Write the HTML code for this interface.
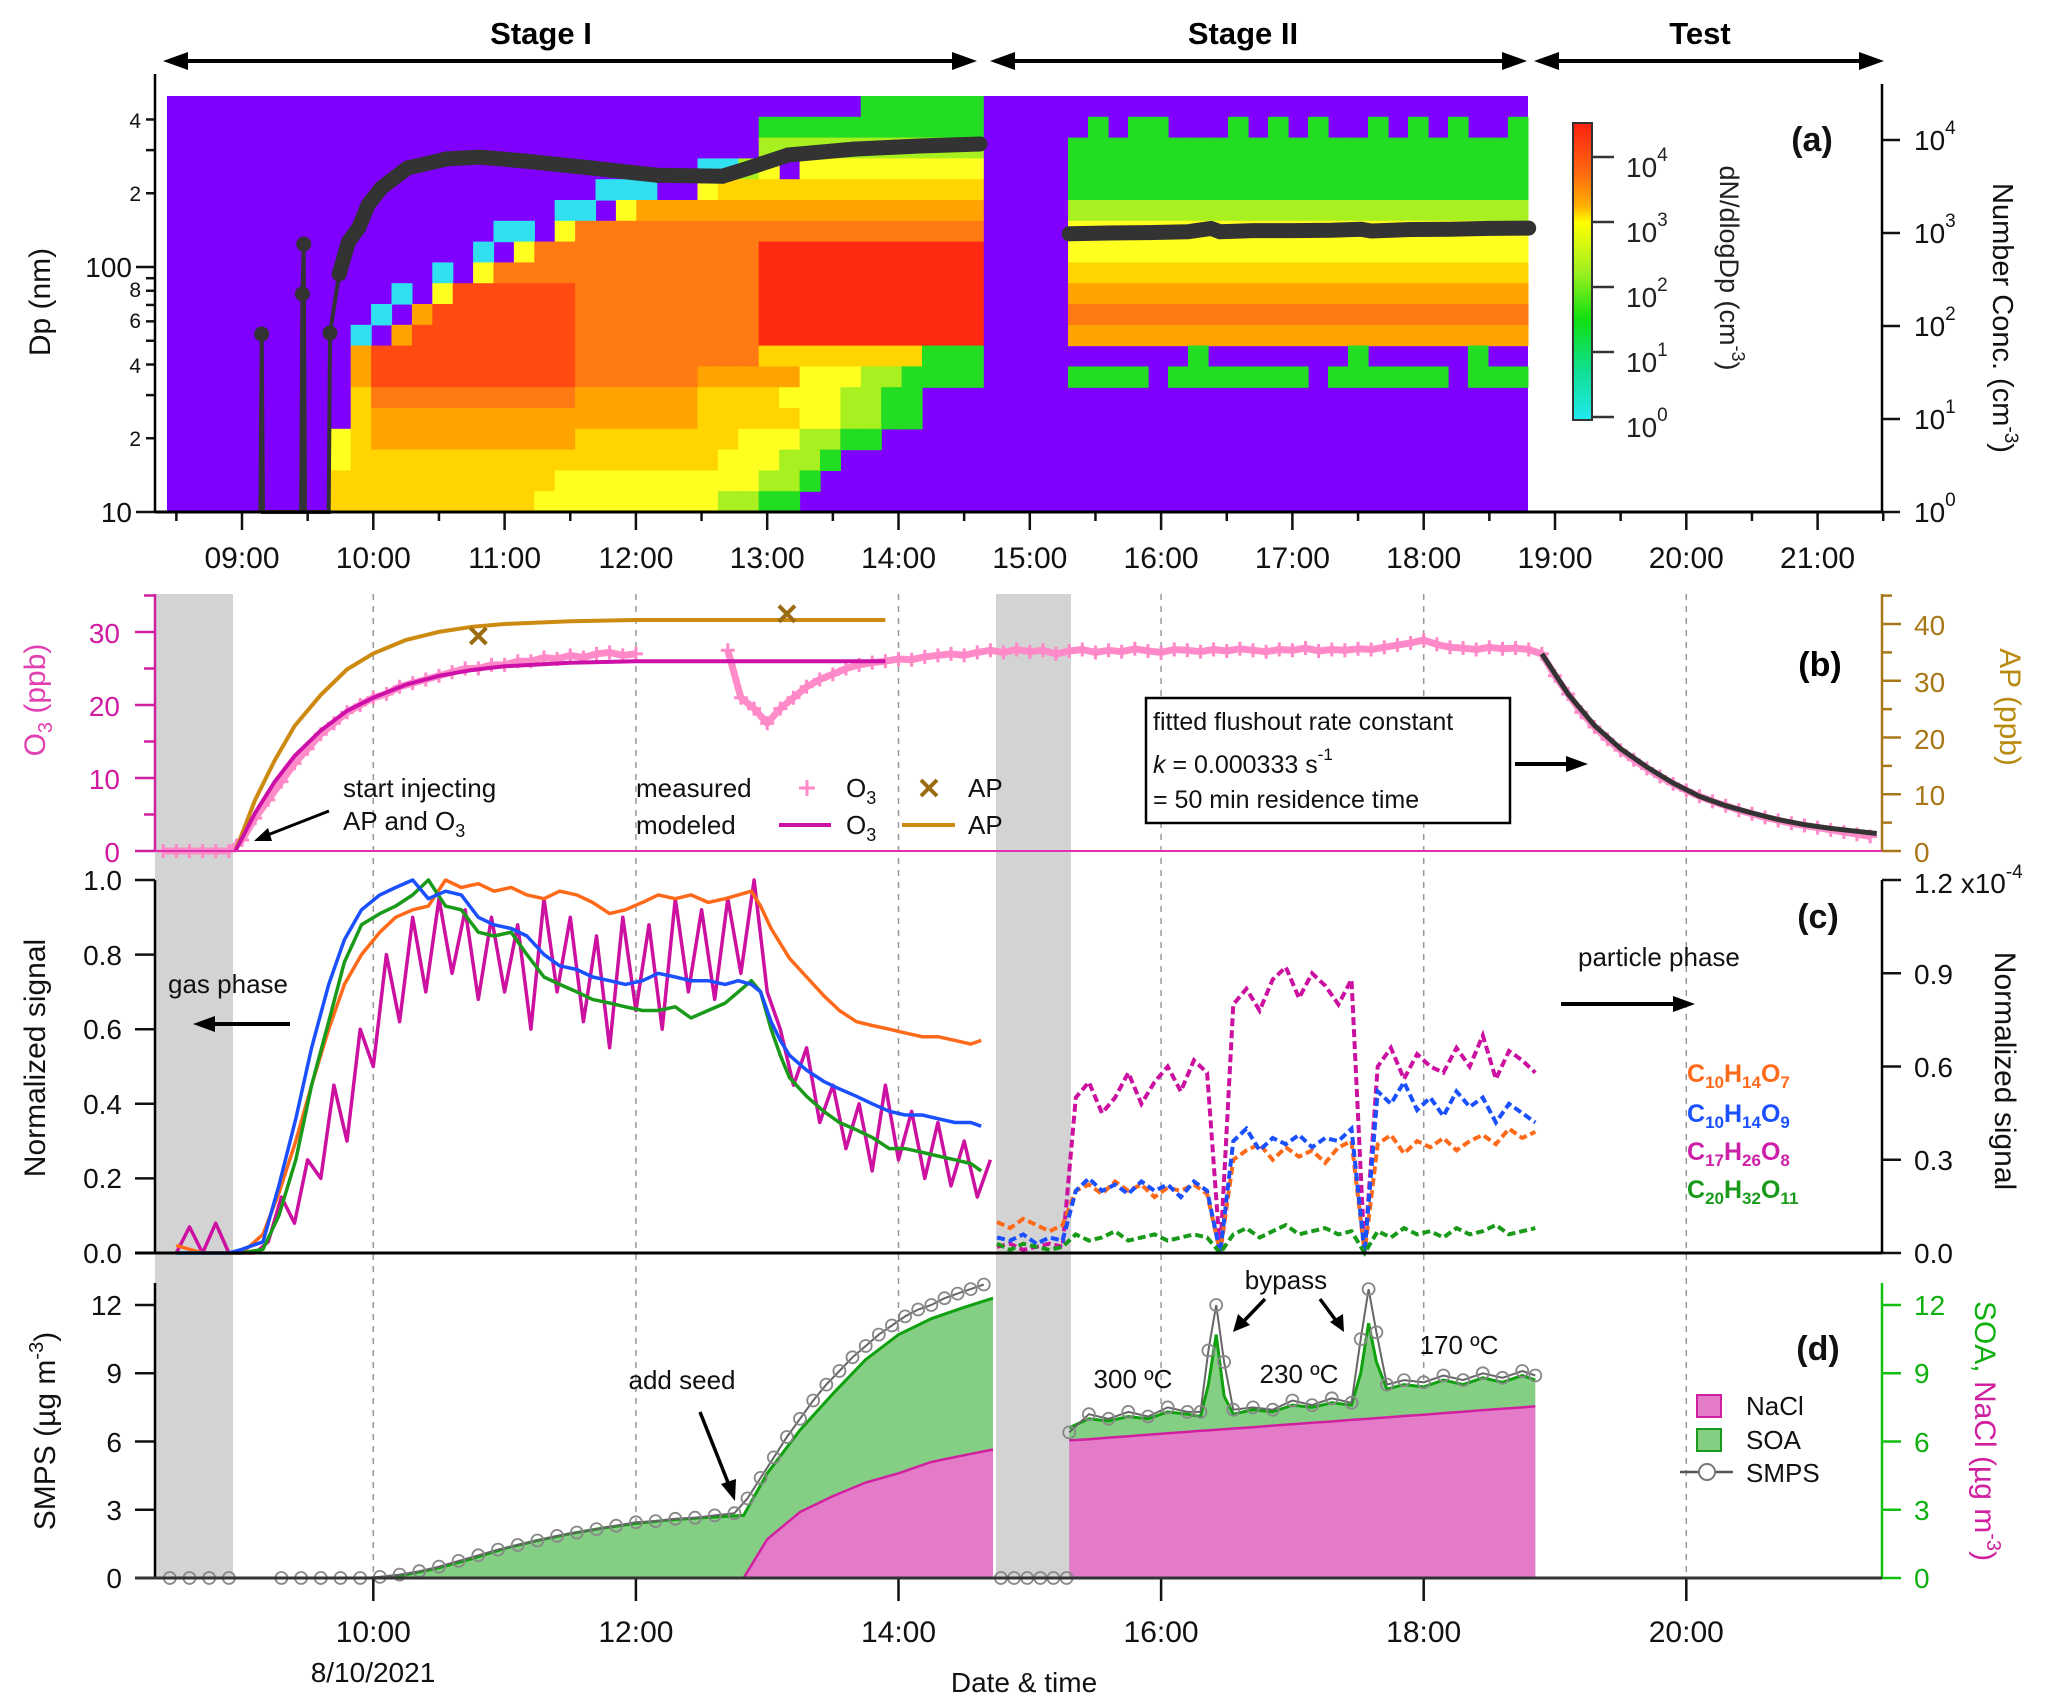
<!DOCTYPE html>
<html><head><meta charset="utf-8"><title>Chamber experiment overview</title>
<style>
html,body{margin:0;padding:0;background:#fff;}
svg{display:block;font-family:"Liberation Sans",Arial,sans-serif;}
</style></head>
<body>
<svg id="chart" width="2067" height="1702" viewBox="0 0 2067 1702" xmlns="http://www.w3.org/2000/svg">
<defs>
<linearGradient id="cbar" x1="0" y1="0" x2="0" y2="1">
<stop offset="0" stop-color="#ff2010"/><stop offset="0.17" stop-color="#ff6a10"/><stop offset="0.28" stop-color="#ffb000"/>
<stop offset="0.335" stop-color="#ffff00"/><stop offset="0.5" stop-color="#a0f020"/><stop offset="0.66" stop-color="#10e010"/>
<stop offset="0.83" stop-color="#10e090"/><stop offset="1" stop-color="#20e8f0"/>
</linearGradient>
</defs>
<rect x="0" y="0" width="2067" height="1702" fill="#fff"/>

<g>
<text x="541" y="44" font-size="31" font-weight="bold" text-anchor="middle">Stage I</text>
<text x="1243" y="44" font-size="31" font-weight="bold" text-anchor="middle">Stage II</text>
<text x="1700" y="44" font-size="31" font-weight="bold" text-anchor="middle">Test</text>
<g stroke="#000" stroke-width="4">
<line x1="180" y1="61" x2="960" y2="61"/><line x1="1006" y1="61" x2="1510" y2="61"/><line x1="1550" y1="61" x2="1866" y2="61"/>
</g>
<g fill="#000">
<polygon points="163,61 188,52 188,70"/><polygon points="977,61 952,52 952,70"/>
<polygon points="990,61 1015,52 1015,70"/><polygon points="1527,61 1502,52 1502,70"/>
<polygon points="1534,61 1559,52 1559,70"/><polygon points="1884,61 1859,52 1859,70"/>
</g>
</g>

<rect x="155" y="594" width="78" height="984" fill="#d3d3d3"/>
<rect x="996" y="594" width="75" height="984" fill="#d3d3d3"/>
<g id="grid"></g>

<rect x="167" y="96" width="1361" height="416" fill="#8000ff"/>
<g id="heat"></g>
<g id="nconc"></g>

<g id="pb"></g>
<g id="pc"></g>
<g id="pd"></g>
<g id="ticks"></g>

<g fill="none">
<line x1="155" y1="74" x2="155" y2="512" stroke="#000" stroke-width="2.5"/>
<line x1="1882" y1="84" x2="1882" y2="512" stroke="#000" stroke-width="2.5"/>
<line x1="155" y1="512" x2="1882" y2="512" stroke="#000" stroke-width="3"/>
<line x1="155" y1="594" x2="155" y2="851" stroke="#d020a0" stroke-width="2.5"/>
<line x1="1882" y1="594" x2="1882" y2="851" stroke="#a87818" stroke-width="2.5"/>
<line x1="155" y1="851" x2="1882" y2="851" stroke="#e030b0" stroke-width="2"/>
<line x1="155" y1="880" x2="155" y2="1253" stroke="#000" stroke-width="2.5"/>
<line x1="1882" y1="880" x2="1882" y2="1253" stroke="#000" stroke-width="2.5"/>
<line x1="135" y1="1253" x2="1882" y2="1253" stroke="#000" stroke-width="3"/>
<line x1="155" y1="1283" x2="155" y2="1578" stroke="#000" stroke-width="2.5"/>
<line x1="1882" y1="1283" x2="1882" y2="1578" stroke="#10c010" stroke-width="2.5"/>
<line x1="135" y1="1578" x2="1882" y2="1578" stroke="#333" stroke-width="3"/>
</g>

<g>
<rect x="1573" y="123" width="19" height="297" fill="url(#cbar)" stroke="#333" stroke-width="2"/>
<g stroke="#333" stroke-width="2.5"><line x1="1592" y1="157" x2="1614" y2="157"/><line x1="1592" y1="222" x2="1614" y2="222"/><line x1="1592" y1="287" x2="1614" y2="287"/><line x1="1592" y1="352" x2="1614" y2="352"/><line x1="1592" y1="417" x2="1614" y2="417"/></g>
<g font-size="28" fill="#222">
<text x="1626" y="177">10<tspan font-size="19" dy="-16">4</tspan></text>
<text x="1626" y="242">10<tspan font-size="19" dy="-16">3</tspan></text>
<text x="1626" y="307">10<tspan font-size="19" dy="-16">2</tspan></text>
<text x="1626" y="372">10<tspan font-size="19" dy="-16">1</tspan></text>
<text x="1626" y="437">10<tspan font-size="19" dy="-16">0</tspan></text>
</g>
<text transform="translate(1720,268) rotate(90)" font-size="27" text-anchor="middle" fill="#222">dN/dlogDp (cm<tspan font-size="18" dy="-12">-3</tspan><tspan dy="12">)</tspan></text>
</g>

<g fill="#111">
<text x="1812" y="151" font-size="34" font-weight="bold" text-anchor="middle">(a)</text>
<text transform="translate(50,302) rotate(-90)" font-size="30" text-anchor="middle">Dp (nm)</text>
<text transform="translate(1993,318) rotate(90)" font-size="29" text-anchor="middle">Number Conc. (cm<tspan font-size="19" dy="-12">-3</tspan><tspan dy="12">)</tspan></text>
<g font-size="28" text-anchor="end">
<text x="132" y="277">100</text>
<text x="132" y="522">10</text>
</g>
<g font-size="21" text-anchor="end">
<text x="141" y="128">4</text>
<text x="141" y="201">2</text>
<text x="141" y="297">8</text>
<text x="141" y="328">6</text>
<text x="141" y="373">4</text>
<text x="141" y="446">2</text>
</g>
<g font-size="28">
<text x="1914" y="150">10<tspan font-size="19" dy="-16">4</tspan></text>
<text x="1914" y="243">10<tspan font-size="19" dy="-16">3</tspan></text>
<text x="1914" y="336">10<tspan font-size="19" dy="-16">2</tspan></text>
<text x="1914" y="429">10<tspan font-size="19" dy="-16">1</tspan></text>
<text x="1914" y="522">10<tspan font-size="19" dy="-16">0</tspan></text>
</g>
</g>

<g>
<text x="1820" y="676" font-size="34" font-weight="bold" text-anchor="middle">(b)</text>
<text transform="translate(45,700) rotate(-90)" font-size="30" text-anchor="middle" fill="#e040b0">O<tspan font-size="20" dy="7">3</tspan><tspan dy="-7"> (ppb)</tspan></text>
<g font-size="28" text-anchor="end" fill="#d01aa0">
<text x="120" y="643">30</text>
<text x="120" y="716">20</text>
<text x="120" y="789">10</text>
<text x="120" y="862">0</text>
</g>
<text transform="translate(2000,707) rotate(90)" font-size="30" text-anchor="middle" fill="#b88a10">AP (ppb)</text>
<g font-size="28" fill="#a87818">
<text x="1914" y="635">40</text>
<text x="1914" y="692">30</text>
<text x="1914" y="749">20</text>
<text x="1914" y="805">10</text>
<text x="1914" y="862">0</text>
</g>
<g font-size="26" fill="#111">
<text x="343" y="797">start injecting</text>
<text x="343" y="830">AP and O<tspan font-size="18" dy="7">3</tspan></text>
<text x="636" y="797">measured</text>
<text x="636" y="834">modeled</text>
<text x="846" y="797">O<tspan font-size="18" dy="7">3</tspan></text>
<text x="968" y="797">AP</text>
<text x="846" y="834">O<tspan font-size="18" dy="7">3</tspan></text>
<text x="968" y="834">AP</text>
</g>
<g stroke="#ff88c8" stroke-width="3"><line x1="799" y1="788" x2="815" y2="788"/><line x1="807" y1="780" x2="807" y2="796"/></g>
<g stroke="#9a6b10" stroke-width="4"><line x1="921" y1="780" x2="937" y2="796"/><line x1="937" y1="780" x2="921" y2="796"/></g>
<line x1="779" y1="825" x2="831" y2="825" stroke="#cc10a8" stroke-width="4"/>
<line x1="902" y1="825" x2="955" y2="825" stroke="#cc8a10" stroke-width="4"/>
<line x1="329" y1="811" x2="265" y2="836" stroke="#000" stroke-width="3"/>
<polygon points="254,841 268,828 272,841" fill="#000"/>
<rect x="1146" y="698" width="364" height="125" fill="#fff" stroke="#000" stroke-width="2.5"/>
<g font-size="25" fill="#111">
<text x="1153" y="730">fitted flushout rate constant</text>
<text x="1153" y="773"><tspan font-style="italic">k</tspan> = 0.000333 s<tspan font-size="17" dy="-13">-1</tspan></text>
<text x="1153" y="808">= 50 min residence time</text>
</g>
<line x1="1515" y1="764" x2="1568" y2="764" stroke="#000" stroke-width="4"/>
<polygon points="1588,764 1566,756 1566,772" fill="#000"/>
</g>

<g fill="#111">
<text x="1818" y="928" font-size="34" font-weight="bold" text-anchor="middle">(c)</text>
<text transform="translate(45,1058) rotate(-90)" font-size="30" text-anchor="middle">Normalized signal</text>
<text transform="translate(1995,1071) rotate(90)" font-size="30" text-anchor="middle">Normalized signal</text>
<g font-size="28" text-anchor="end">
<text x="122" y="890">1.0</text>
<text x="122" y="965">0.8</text>
<text x="122" y="1039">0.6</text>
<text x="122" y="1114">0.4</text>
<text x="122" y="1188">0.2</text>
<text x="122" y="1263">0.0</text>
</g>
<g font-size="28">
<text x="1914" y="893">1.2 x10<tspan font-size="19" dy="-15">-4</tspan></text>
<text x="1914" y="984">0.9</text>
<text x="1914" y="1077">0.6</text>
<text x="1914" y="1170">0.3</text>
<text x="1914" y="1263">0.0</text>
</g>
<text x="168" y="993" font-size="26">gas phase</text>
<line x1="290" y1="1024" x2="212" y2="1024" stroke="#000" stroke-width="4"/>
<polygon points="193,1024 215,1016 215,1032" fill="#000"/>
<text x="1578" y="966" font-size="26">particle phase</text>
<line x1="1561" y1="1004" x2="1675" y2="1004" stroke="#000" stroke-width="4"/>
<polygon points="1695,1004 1673,996 1673,1012" fill="#000"/>
<g font-size="25" font-weight="bold">
<text x="1687" y="1082" fill="#ff6a1a">C<tspan font-size="17" dy="6">10</tspan><tspan dy="-6">H</tspan><tspan font-size="17" dy="6">14</tspan><tspan dy="-6">O</tspan><tspan font-size="17" dy="6">7</tspan></text>
<text x="1687" y="1122" fill="#1a50ff">C<tspan font-size="17" dy="6">10</tspan><tspan dy="-6">H</tspan><tspan font-size="17" dy="6">14</tspan><tspan dy="-6">O</tspan><tspan font-size="17" dy="6">9</tspan></text>
<text x="1687" y="1160" fill="#cc20a8">C<tspan font-size="17" dy="6">17</tspan><tspan dy="-6">H</tspan><tspan font-size="17" dy="6">26</tspan><tspan dy="-6">O</tspan><tspan font-size="17" dy="6">8</tspan></text>
<text x="1687" y="1198" fill="#1a9a1a">C<tspan font-size="17" dy="6">20</tspan><tspan dy="-6">H</tspan><tspan font-size="17" dy="6">32</tspan><tspan dy="-6">O</tspan><tspan font-size="17" dy="6">11</tspan></text>
</g>
</g>

<g fill="#111">
<text x="1818" y="1360" font-size="34" font-weight="bold" text-anchor="middle">(d)</text>
<text transform="translate(55,1431) rotate(-90)" font-size="30" text-anchor="middle">SMPS (µg m<tspan font-size="20" dy="-12">-3</tspan><tspan dy="12">)</tspan></text>
<text transform="translate(1975,1431) rotate(90)" font-size="30" text-anchor="middle"><tspan fill="#10b010">SOA, </tspan><tspan fill="#d020a0">NaCl (µg m</tspan><tspan fill="#d020a0" font-size="20" dy="-12">-3</tspan><tspan fill="#d020a0" dy="12">)</tspan></text>
<g font-size="28" text-anchor="end">
<text x="122" y="1315">12</text>
<text x="122" y="1383">9</text>
<text x="122" y="1452">6</text>
<text x="122" y="1520">3</text>
<text x="122" y="1588">0</text>
</g>
<g font-size="28" fill="#10b010">
<text x="1914" y="1315">12</text>
<text x="1914" y="1383">9</text>
<text x="1914" y="1452">6</text>
<text x="1914" y="1520">3</text>
<text x="1914" y="1588">0</text>
</g>
<g font-size="26">
<text x="682" y="1389" text-anchor="middle">add seed</text>
<text x="1286" y="1289" text-anchor="middle">bypass</text>
<text x="1133" y="1388" text-anchor="middle">300 ºC</text>
<text x="1299" y="1383" text-anchor="middle">230 ºC</text>
<text x="1459" y="1354" text-anchor="middle">170 ºC</text>
</g>
<g stroke="#000" stroke-width="3.5">
<line x1="700" y1="1412" x2="729" y2="1485"/><line x1="1265" y1="1299" x2="1243" y2="1322"/><line x1="1320" y1="1299" x2="1337" y2="1322"/>
</g>
<g fill="#000">
<polygon points="735,1501 721,1484 736,1479"/><polygon points="1233,1332 1238,1314 1250,1325"/><polygon points="1344,1332 1330,1322 1343,1314"/>
</g>
<rect x="1697" y="1395" width="24" height="22" fill="#e47bc8" stroke="#d020a0" stroke-width="2"/>
<rect x="1697" y="1429" width="24" height="22" fill="#85cf85" stroke="#1a9a1a" stroke-width="2"/>
<line x1="1680" y1="1472" x2="1733" y2="1472" stroke="#555" stroke-width="2.5"/>
<circle cx="1707" cy="1472" r="8" fill="#fff" stroke="#777" stroke-width="2"/>
<g font-size="26">
<text x="1746" y="1415">NaCl</text>
<text x="1746" y="1449">SOA</text>
<text x="1746" y="1482">SMPS</text>
</g>
<text x="373" y="1682" font-size="28" text-anchor="middle">8/10/2021</text>
<text x="1024" y="1692" font-size="28" text-anchor="middle">Date &amp; time</text>
</g>
<g id="timelabels" font-size="30" fill="#111"></g>
</svg>

<script>
// ---------------- DATA ----------------
const heatStage1Start = 8.429;
const heatStage1Step = 0.1554;
const heatStage1 = [
"..................................gggggg",
".............................ggggggggggg",
".............................lllllllllll",
"..........................ccly.yyyyyyyyy",
".....................ccc..yYYYYYYYYYYYYY",
"...................cc.yooooooooooooooooo",
"................cc.yOOOOOOOOOOOOOOOOOOOO",
"...............c.yOOOOOOOOOOORRRRRRRRRRR",
".............c.yOOOOOOOOOOOOORRRRRRRRRRR",
"...........c.yrrrrrrOOOOOOOOORRRRRRRRRRR",
"..........c.orrrrrrrOOOOOOOOORRRRRRRRRRR",
".........c.orrrrrrrrOOOOOOOOORRRRRRRRRRR",
".........orrrrrrrrrrOOOOOOOOOYYYYYYYYggg",
".........orrrrrrrrrrOOOOOOoooooyyyllgggg",
".........YOOOOOOOOOOooooooYYYYyyyllgg...",
".........YooooooooooooooooYYYYYyyllgg....",
"........yYooooooooooYYYYYYYYyyyllgg.....",
"........yYYYYYYYYYYYYYYYYYYyyyllg.......",
"........YYYYYYYYYYYyyyyyyyyyyllg........",
"........YYYYYYYYYYyyyyyyyyyllgg........."
];
const heatStage2Start = 15.291;
const heatStage2Step = 0.1523;
const heatStage2 = [
".......................",
".g.gg...g.g.g..g.g.g..g",
"ggggggggggggggggggggggg",
"ggggggggggggggggggggggg",
"ggggggggggggggggggggggg",
"lllllllllllllllllllllll",
"yyyyyyyyyyyyyyyyyyyyyyy",
"yyyyyyyyyyyyyyyyyyyyyyy",
"YYYYYYYYYYYYYYYYYYYYYYY",
"ooooooooooooooooooooooo",
"OOOOOOOOOOOOOOOOOOOOOOO",
"ooooooooooooooooooooooo",
"......g.......g.....g..",
"gggg.ggggggg.gggggg.ggg",
".......................",".......................",".......................",
".......................",".......................","......................."
];
const heatColors = {c:'#30e0f0',g:'#22dd22',l:'#a8f020',y:'#ffff20',Y:'#ffd400',o:'#ffa300',O:'#ff7a12',r:'#ff4a12',R:'#ff2810'};

const nTimes1 = [9.14,9.15,9.16,9.45,9.46,9.47,9.48,9.66,9.67,9.74,9.81,9.89,9.96,10.06,10.26,10.56,10.81,11.16,11.66,12.16,12.66,12.86,13.16,13.66,14.16,14.62];
const nVals1 = [1,82,1,1,221,760,1,1,84,363,800,1150,2000,3040,5000,6260,6550,5930,5000,4180,4080,5000,6900,7980,8610,9060];
const nTimes2 = [15.3,15.6,15.9,16.2,16.38,16.45,16.7,17.0,17.3,17.52,17.6,17.9,18.2,18.5,18.8];
const nVals2 = [980,1000,1010,1030,1120,1030,1060,1060,1070,1100,1050,1090,1100,1120,1130];

const o3Start = 8.4, o3Step = 0.1;
const o3Measured = [0,0,0,0,0,0,1.5,4.5,7,9.5,12,14,16,17.5,19,20,21,21.5,22.5,23,23.5,24,24.5,25,25,25.5,25.5,26,26,26.5,26.3,26.8,26.5,27,27.2,26.8,27,
null,null,null,null,null,null,27.5,21,19.5,17.5,19.5,21,22.5,23.5,24.2,25,25.5,25.8,26,26.3,26.2,26.6,26.8,27,26.8,27.2,27.5,27.2,27.6,27.3,27.5,27,27.4,27.6,27.2,27.5,27.3,27.7,27.4,27.2,27.6,27.5,27.3,27.6,27.4,27.7,27.5,27.3,27.6,27.5,27.8,27.4,27.6,27.5,27.7,27.6,27.9,28.2,28.5,28.9,28.3,27.9,27.8,27.6,27.9,27.7,27.8,27.6,27,24,21.5,19,17,15.3,13.8,12.5,11.3,10.2,9.2,8.3,7.5,6.8,6.2,5.6,5.1,4.6,4.2,3.8,3.5,3.2,2.9,2.6,2.3,2.0];
const modelTimes = [8.95,9.1,9.25,9.4,9.6,9.8,10,10.25,10.5,10.75,11,11.5,12,12.5,13,13.5,13.9];
const o3Modeled = [0,5.2,9.5,13,16.5,19.2,21,22.8,24,24.8,25.3,25.8,26,26,26,26,26];
const apModeled = [0,9,16,22,27.5,32,34.8,37.2,38.6,39.5,40,40.5,40.7,40.7,40.7,40.7,40.7];
const apMeasTimes = [10.8,13.15];
const apMeasured = [37.9,41.8];
const fitTimes = [18.9,19.1,19.3,19.5,19.7,19.9,20.1,20.3,20.5,20.7,20.9,21.1,21.3,21.45];
const fitVals = [27,21.5,17.2,14,11.5,9.3,7.5,6.2,5.2,4.3,3.6,3.1,2.7,2.4];

const gasTimes = [8.5,8.7,8.9,9.0,9.16,9.28,9.41,9.53,9.66,9.78,9.91,10.05,10.17,10.3,10.42,10.55,10.67,10.8,10.92,11.05,11.17,11.3,11.42,11.55,11.67,11.8,11.92,12.05,12.17,12.3,12.42,12.55,12.68,12.78,12.88,12.95,13.03,13.1,13.17,13.3,13.43,13.55,13.68,13.8,13.93,14.05,14.18,14.3,14.43,14.55,14.63];
const gasOrange = [0.02,0,0,0,0.05,0.16,0.3,0.45,0.6,0.72,0.8,0.86,0.9,0.92,0.93,1.0,0.98,0.99,0.97,0.98,0.96,0.95,0.97,0.96,0.94,0.91,0.92,0.94,0.96,0.95,0.96,0.94,0.95,0.96,0.97,0.93,0.87,0.83,0.79,0.74,0.69,0.65,0.62,0.61,0.6,0.59,0.58,0.58,0.57,0.56,0.57];
const gasBlue = [0,0,0,0.01,0.03,0.18,0.36,0.55,0.72,0.84,0.92,0.96,0.98,1.0,0.95,0.97,0.96,0.9,0.88,0.87,0.85,0.8,0.77,0.76,0.74,0.73,0.72,0.73,0.75,0.74,0.73,0.73,0.72,0.73,0.72,0.7,0.62,0.57,0.53,0.49,0.46,0.44,0.42,0.4,0.38,0.37,0.37,0.36,0.35,0.35,0.34];
const gasGreen = [0,0,0,0,0.01,0.1,0.25,0.45,0.62,0.78,0.88,0.91,0.93,0.96,1.0,0.93,0.92,0.86,0.85,0.86,0.8,0.74,0.72,0.7,0.68,0.67,0.66,0.65,0.65,0.66,0.63,0.65,0.67,0.7,0.73,0.7,0.6,0.53,0.47,0.42,0.38,0.35,0.33,0.31,0.28,0.28,0.27,0.26,0.25,0.24,0.22];
const magStart = 8.5, magStep = 0.1;
const gasMagenta = [0,0.07,0,0.08,0,0,0,0.03,0.15,0.08,0.25,0.2,0.45,0.3,0.6,0.5,0.8,0.62,0.9,0.7,0.95,0.75,0.92,0.68,0.9,0.7,0.88,0.6,0.95,0.7,0.9,0.62,0.85,0.55,0.9,0.65,0.88,0.6,0.95,0.7,0.92,0.68,0.95,0.75,1.0,0.7,0.6,0.45,0.55,0.35,0.45,0.28,0.4,0.22,0.45,0.25,0.38,0.2,0.35,0.18,0.3,0.15,0.25];
const partStart = 14.75, partStep = 0.1;
const partMagenta = [0.02,0.03,0.01,0.02,0.03,0.02,0.5,0.55,0.45,0.5,0.58,0.48,0.55,0.6,0.52,0.62,0.58,0.0,0.8,0.85,0.78,0.88,0.92,0.82,0.9,0.86,0.8,0.88,0.0,0.6,0.66,0.56,0.64,0.6,0.58,0.66,0.6,0.7,0.56,0.65,0.62,0.58];
const partBlue = [0.05,0.04,0.06,0.03,0.05,0.04,0.2,0.24,0.2,0.22,0.19,0.23,0.2,0.22,0.18,0.23,0.2,0.0,0.36,0.4,0.33,0.37,0.35,0.38,0.34,0.37,0.36,0.4,0.0,0.52,0.48,0.55,0.46,0.5,0.44,0.52,0.47,0.5,0.42,0.48,0.45,0.42];
const partOrange = [0.1,0.08,0.11,0.09,0.07,0.09,0.2,0.22,0.19,0.23,0.2,0.22,0.18,0.21,0.2,0.22,0.19,0.0,0.3,0.33,0.35,0.3,0.34,0.31,0.33,0.29,0.34,0.36,0.0,0.35,0.38,0.32,0.36,0.34,0.37,0.33,0.36,0.38,0.35,0.4,0.37,0.39];
const partGreen = [0.03,0.01,0.03,0.02,0.01,0.02,0.06,0.04,0.05,0.07,0.04,0.05,0.06,0.04,0.05,0.06,0.05,0.0,0.06,0.08,0.05,0.07,0.09,0.06,0.07,0.08,0.06,0.07,0.0,0.07,0.05,0.08,0.06,0.07,0.05,0.08,0.06,0.07,0.09,0.06,0.07,0.08];

const massTimes1 = [8.4,10.0,10.25,10.5,10.75,11.0,11.25,11.5,11.75,12.0,12.25,12.5,12.82,13.0,13.25,13.5,13.75,14.0,14.25,14.5,14.72];
const soaTop1 = [0,0,0.15,0.45,0.85,1.3,1.65,1.95,2.2,2.4,2.55,2.65,2.75,4.6,6.5,8.1,9.6,10.7,11.4,11.9,12.3];
const nacl1 = [0,0,0,0,0,0,0,0,0,0,0,0,0,1.7,2.9,3.6,4.2,4.6,5.1,5.4,5.65];
const smpsTimes1 = [8.45,8.6,8.75,8.9,9.3,9.45,9.6,9.75,9.9,10.05,10.2,10.35,10.5,10.65,10.8,10.95,11.1,11.25,11.4,11.55,11.7,11.85,12.0,12.15,12.3,12.45,12.6,12.75,12.85,12.95,13.05,13.15,13.25,13.35,13.45,13.55,13.65,13.75,13.85,13.95,14.05,14.15,14.25,14.35,14.45,14.55,14.65];
const smps1 = [0,0,0,0,0,0,0,0,0,0.05,0.15,0.3,0.5,0.75,1.0,1.25,1.45,1.65,1.85,2.0,2.15,2.3,2.45,2.5,2.6,2.65,2.75,2.85,3.5,4.4,5.3,6.2,7.0,7.8,8.5,9.1,9.7,10.2,10.7,11.1,11.5,11.8,12.0,12.3,12.5,12.7,12.9];
const smpsTimesPre = [14.78,14.88,14.98,15.08,15.18,15.28];
const smpsPre = [0,0,0,0,0,0];
const massTimes2 = [15.3,15.45,15.6,15.75,15.9,16.05,16.2,16.3,16.36,16.42,16.48,16.55,16.7,16.85,17.0,17.15,17.3,17.45,17.52,17.58,17.64,17.72,17.85,18.0,18.15,18.3,18.45,18.6,18.75,18.85];
const soaTop2 = [6.6,7.0,6.9,7.1,7.0,7.3,7.2,7.1,8.5,10.7,8.0,7.2,7.4,7.3,7.6,7.5,7.7,7.6,9.0,11.2,9.5,8.3,8.5,8.4,8.7,8.5,8.8,8.6,8.9,8.7];
const nacl2 = [6.05,6.1,6.17,6.23,6.3,6.36,6.42,6.47,6.49,6.52,6.54,6.57,6.63,6.7,6.76,6.82,6.88,6.95,6.98,7.0,7.03,7.06,7.12,7.18,7.25,7.31,7.38,7.44,7.5,7.55];
const smps2 = [6.4,7.2,7.0,7.3,7.1,7.5,7.3,7.3,10.0,12.0,9.5,7.4,7.5,7.4,7.8,7.6,7.9,7.7,10.5,12.7,10.8,8.5,8.7,8.6,8.9,8.7,9.0,8.8,9.1,8.9];

const hourLabelsA = ['09:00','10:00','11:00','12:00','13:00','14:00','15:00','16:00','17:00','18:00','19:00','20:00','21:00'];
const hourLabelsD = ['10:00','12:00','14:00','16:00','18:00','20:00'];

// ---------------- SCALES ----------------
const NS = 'http://www.w3.org/2000/svg';
function mk(tag, attrs, parent){const e=document.createElementNS(NS,tag);for(const k in attrs)e.setAttribute(k,attrs[k]);parent.appendChild(e);return e;}
const X = t => 242 + (t - 9) * 131.3;
const Ydp = dp => 512 - (Math.log10(dp) - 1) * 245;
const Yn = n => 512 - Math.log10(n) * 93;
const Yo3 = v => 851 - v * 7.3;
const Yap = v => 851 - v * 5.675;
const Yc = v => 1253 - v * 373;
const Ycr = v => 1253 - v * 310.8;
const Yd = v => 1578 - v * 22.75;
const hm = s => { const p = s.split(':'); return +p[0] + (+p[1]) / 60; };
const g = id => document.getElementById(id);

function pathFrom(ts, vs, yf){
  let d = '', pen = false;
  for (let i = 0; i < Math.min(ts.length, vs.length); i++){
    if (vs[i] === null){ pen = false; continue; }
    d += (pen ? 'L' : 'M') + X(ts[i]).toFixed(1) + ' ' + yf(vs[i]).toFixed(1);
    pen = true;
  }
  return d;
}

const grid = g('grid');
for (const lab of hourLabelsD){
  const ln = mk('line', {x1:X(hm(lab)), x2:X(hm(lab)), y1:594, y2:1578, stroke:'#999', 'stroke-width':1.5, 'stroke-dasharray':'6 6'}, grid);
  
  
}

const heat = g('heat');
const rowH = 416 / 20;
function drawHeat(rows, t0, dt){
  rows.forEach((row, r) => {
    for (let j = 0; j < row.length; j++){
      const ch = row[j];
      if (!heatColors[ch]) continue;
      const x0 = X(t0 + j * dt), x1 = X(t0 + (j + 1) * dt);
      const cell = mk('rect', {x:x0.toFixed(1), y:(96 + r * rowH).toFixed(1), width:(x1 - x0 + 0.6).toFixed(1), height:(rowH + 0.6).toFixed(1), fill:heatColors[ch]}, heat);
      
      
    }
  });
}
drawHeat(heatStage1, heatStage1Start, heatStage1Step);
drawHeat(heatStage2, heatStage2Start, heatStage2Step);

const nc = g('nconc');
const thin = mk('path', {d:pathFrom(nTimes1.slice(0, 10), nVals1.slice(0, 10), Yn), stroke:'#333', 'stroke-width':4, fill:'none'}, nc);


const thick1 = mk('path', {d:pathFrom(nTimes1.slice(9), nVals1.slice(9), Yn), stroke:'#333', 'stroke-width':15, fill:'none', 'stroke-linecap':'round', 'stroke-linejoin':'round'}, nc);


const thick2 = mk('path', {d:pathFrom(nTimes2, nVals2, Yn), stroke:'#333', 'stroke-width':15, fill:'none', 'stroke-linecap':'round', 'stroke-linejoin':'round'}, nc);


nTimes1.forEach((t, i) => {
  if (nVals1[i] <= 1) return;
  const c = mk('circle', {cx:X(t), cy:Yn(nVals1[i]), r:7.5, fill:'#333'}, nc);
  
  
});

const pb = g('pb');
const o3Times = o3Measured.map((v, i) => o3Start + i * o3Step);
const o3band = mk('path', {d:pathFrom(o3Times, o3Measured, Yo3), stroke:'#ff8cc8', 'stroke-width':7, fill:'none', 'stroke-linejoin':'round'}, pb);


o3Measured.forEach((v, i) => {
  if (v === null) return;
  const x = X(o3Times[i]), y = Yo3(v);
  const p = mk('path', {d:`M${x-7} ${y}H${x+7}M${x} ${y-7}V${y+7}`, stroke:'#ff88c8', 'stroke-width':3}, pb);
  
  
});
const apLine = mk('path', {d:pathFrom(modelTimes, apModeled, Yap), stroke:'#cc8a10', 'stroke-width':4, fill:'none'}, pb);


const o3Line = mk('path', {d:pathFrom(modelTimes, o3Modeled, Yo3), stroke:'#cc10a8', 'stroke-width':4, fill:'none'}, pb);


apMeasTimes.forEach((t, i) => {
  const x = X(t), y = Yap(apMeasured[i]);
  const p = mk('path', {d:`M${x-8} ${y-8}L${x+8} ${y+8}M${x+8} ${y-8}L${x-8} ${y+8}`, stroke:'#9a6b10', 'stroke-width':4}, pb);
  
  
});
const fit = mk('path', {d:pathFrom(fitTimes, fitVals, Yo3), stroke:'#333', 'stroke-width':5, fill:'none'}, pb);



const pc = g('pc');
const magTimes = gasMagenta.map((v, i) => magStart + i * magStep);
[[magTimes, gasMagenta, '#cc10a0', 'gas-c17h26o8-line'], [gasTimes, gasOrange, '#ff6a1a', 'gas-c10h14o7-line'], [gasTimes, gasGreen, '#1a9a1a', 'gas-c20h32o11-line'], [gasTimes, gasBlue, '#1a50ff', 'gas-c10h14o9-line']].forEach(s => {
  const p = mk('path', {d:pathFrom(s[0], s[1], Yc), stroke:s[2], 'stroke-width':3.5, fill:'none', 'stroke-linejoin':'round'}, pc);
  
  
});
const partTimes = partMagenta.map((v, i) => partStart + i * partStep);
[[partMagenta, '#cc10a0', 'particle-c17h26o8-line'], [partOrange, '#ff6a1a', 'particle-c10h14o7-line'], [partBlue, '#1a50ff', 'particle-c10h14o9-line'], [partGreen, '#1a9a1a', 'particle-c20h32o11-line']].forEach(s => {
  const p = mk('path', {d:pathFrom(partTimes, s[0], Ycr), stroke:s[1], 'stroke-width':4, fill:'none', 'stroke-dasharray':'8 4'}, pc);
  
  
});

const pd = g('pd');
function areaPath(ts, vs){
  let d = 'M' + X(ts[0]).toFixed(1) + ' ' + Yd(0);
  ts.forEach((t, i) => { d += 'L' + X(t).toFixed(1) + ' ' + Yd(vs[i]).toFixed(1); });
  d += 'L' + X(ts[ts.length - 1]).toFixed(1) + ' ' + Yd(0) + 'Z';
  return d;
}
[[massTimes1, soaTop1, nacl1, '1'], [massTimes2, soaTop2, nacl2, '2']].forEach(s => {
  const soa = mk('path', {d:areaPath(s[0], s[1]), fill:'#85cf85'}, pd);
  
  
  const na = mk('path', {d:areaPath(s[0], s[2]), fill:'#e47bc8'}, pd);
  
  
  const sl = mk('path', {d:pathFrom(s[0], s[1], Yd), stroke:'#10a010', 'stroke-width':3, fill:'none'}, pd);
  
  
  const nl = mk('path', {d:pathFrom(s[0], s[2], Yd), stroke:'#d020a0', 'stroke-width':2.5, fill:'none'}, pd);
  
  
});
[[smpsTimes1, smps1, '1'], [smpsTimesPre, smpsPre, 'pre'], [massTimes2, smps2, '2']].forEach(s => {
  const l = mk('path', {d:pathFrom(s[0], s[1], Yd), stroke:'#666', 'stroke-width':2, fill:'none'}, pd);
  
  
  s[0].forEach((t, i) => {
    const c = mk('circle', {cx:X(t).toFixed(1), cy:Yd(s[1][i]).toFixed(1), r:6, fill:'none', stroke:'#888', 'stroke-width':1.8}, pd);
    
    
  });
});

const tk = g('ticks');
function tick(x1, y1, x2, y2, col, name){
  const l = mk('line', {x1:x1, y1:y1, x2:x2, y2:y2, stroke:col, 'stroke-width':2.5}, tk);
  
  
}
for (let h = 8.5; h <= 21.5; h += 0.5){
  const major = Number.isInteger(h);
  tick(X(h), 512, X(h), major ? 530 : 521, '#111', 'time-tick-a');
}
for (const lab of hourLabelsD) tick(X(hm(lab)), 1578, X(hm(lab)), 1601, '#111', 'time-tick-d');
[20,30,40,50,60,70,80,90,200,300,400].forEach(d => tick(146, Ydp(d), 155, Ydp(d), '#111', 'dp-minor-tick'));
[10,100].forEach(d => tick(136, Ydp(d), 155, Ydp(d), '#111', 'dp-major-tick'));
[1,10,100,1000,10000].forEach(n => tick(1882, Yn(n), 1900, Yn(n), '#111', 'nconc-tick'));
for (let v = 0; v <= 35; v += 5) tick(v % 10 ? 144 : 135, Yo3(v), 155, Yo3(v), '#d020a0', 'o3-tick');
for (let v = 0; v <= 45; v += 5) tick(1882, Yap(v), v % 10 ? 1892 : 1901, Yap(v), '#a87818', 'ap-tick');
for (let v = 0; v <= 1.0001; v += 0.2) tick(135, Yc(v), 155, Yc(v), '#111', 'c-left-tick');
for (let v = 0; v <= 1.2001; v += 0.3) tick(1882, Ycr(v), 1901, Ycr(v), '#111', 'c-right-tick');
for (let v = 0; v <= 12; v += 3){ tick(135, Yd(v), 155, Yd(v), '#111', 'd-left-tick'); tick(1882, Yd(v), 1901, Yd(v), '#10c010', 'd-right-tick'); }

const tl = g('timelabels');
hourLabelsA.forEach(lab => {
  const t = mk('text', {x:X(hm(lab)), y:568, 'text-anchor':'middle'}, tl);
  t.textContent = lab;
  
  
});
hourLabelsD.forEach(lab => {
  const t = mk('text', {x:X(hm(lab)), y:1642, 'text-anchor':'middle'}, tl);
  t.textContent = lab;
  
  
});
</script>
</body></html>
